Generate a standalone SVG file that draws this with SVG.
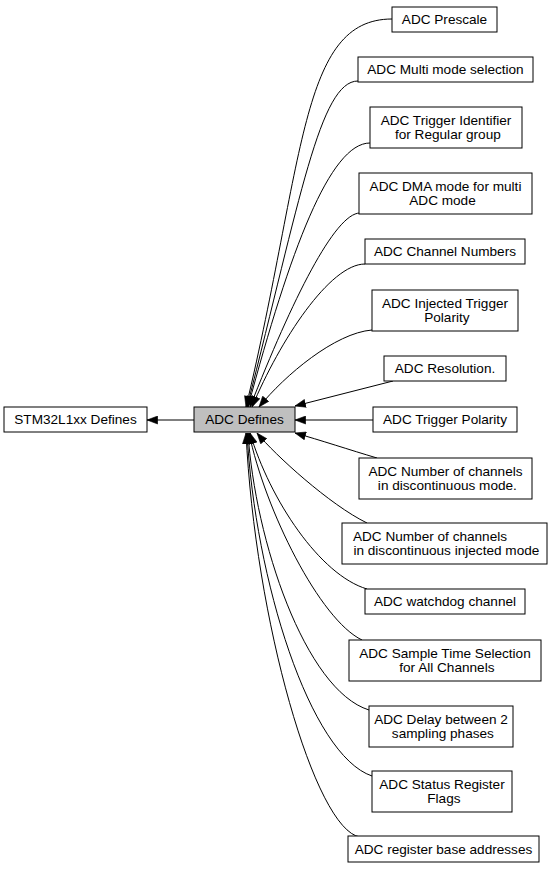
<svg xmlns="http://www.w3.org/2000/svg" width="553" height="869" viewBox="0 0 553 869">
<style>
.n rect{fill:#ffffff;stroke:#000000;stroke-width:1}
.n text{font-family:"Liberation Sans",Arial,sans-serif;font-size:13.6px;fill:#000000;text-anchor:middle}
#cur rect{fill:#bfbfbf}
.e path{fill:none;stroke:#000000;stroke-width:1;marker-end:url(#ah)}
</style>
<defs>
<marker id="ah" markerUnits="userSpaceOnUse" markerWidth="11" markerHeight="9" refX="11" refY="4.5" orient="auto" viewBox="0 0 11 9">
<path d="M0.3,0.5 L11,4.5 L0.3,8.5 z" fill="#000000" stroke="#000000" stroke-width="0.6"/>
</marker>
</defs>
<rect x="0" y="0" width="553" height="869" fill="#ffffff"/>
<g class="e" id="edges">
<path d="M194,420 L147,420"/>
<path d="M392,19 C300,19 305,160 246,407"/>
<path d="M358,81 C320,81 300,200 247,407"/>
<path d="M370,143 C330,143 290,250 248,407"/>
<path d="M360,213 C335,213 292,300 250,407"/>
<path d="M365,264 C330,264 280,340 252,407"/>
<path d="M372,330 C335,333 285,375 259,407"/>
<path d="M393,381 L295,406"/>
<path d="M373,420 L295,420"/>
<path d="M377,458 C350,450 320,440 295,433"/>
<path d="M367,523 C330,505 275,455 257,433"/>
<path d="M367,589 C320,575 270,500 250,433"/>
<path d="M362,640 C320,620 265,510 249,433"/>
<path d="M369,710 C305,690 255,540 248,433"/>
<path d="M372,776 C310,755 255,580 247,433"/>
<path d="M360,837 C315,830 255,620 246,433"/>
</g>
<g class="n" id="stm32"><rect x="4" y="407" width="143" height="25"/><text x="75.5" y="424">STM32L1xx Defines</text></g>
<g class="n" id="cur"><rect x="194" y="407" width="101" height="25"/><text x="244.5" y="424">ADC Defines</text></g>
<g class="n" id="prescale"><rect x="392" y="7" width="105" height="25"/><text x="444.5" y="24">ADC Prescale</text></g>
<g class="n" id="multi"><rect x="358" y="57" width="175" height="25"/><text x="445.5" y="74">ADC Multi mode selection</text></g>
<g class="n" id="trigid"><rect x="370" y="107" width="152" height="41"/><text xml:space="preserve" x="446" y="125">ADC Trigger Identifier</text><text xml:space="preserve" x="446" y="139"> for Regular group</text></g>
<g class="n" id="dma"><rect x="359" y="173" width="173" height="41"/><text xml:space="preserve" x="445.5" y="191">ADC DMA mode for multi</text><text xml:space="preserve" x="441" y="205"> ADC mode</text></g>
<g class="n" id="channel"><rect x="365" y="239" width="160" height="25"/><text x="445" y="256">ADC Channel Numbers</text></g>
<g class="n" id="injtrig"><rect x="372" y="290" width="146" height="41"/><text xml:space="preserve" x="445" y="308">ADC Injected Trigger</text><text xml:space="preserve" x="445" y="322"> Polarity</text></g>
<g class="n" id="resolution"><rect x="384" y="356" width="122" height="25"/><text x="445" y="373">ADC Resolution.</text></g>
<g class="n" id="trigpol"><rect x="373" y="407" width="144" height="25"/><text x="445" y="424">ADC Trigger Polarity</text></g>
<g class="n" id="discmode"><rect x="359" y="458" width="173" height="41"/><text xml:space="preserve" x="445.5" y="476">ADC Number of channels</text><text xml:space="preserve" x="445.5" y="490"> in discontinuous mode.</text></g>
<g class="n" id="discinj"><rect x="342" y="523" width="205" height="41"/><text xml:space="preserve" x="430" y="541">ADC Number of channels</text><text xml:space="preserve" x="444.5" y="555"> in discontinuous injected mode</text></g>
<g class="n" id="watchdog"><rect x="365" y="589" width="160" height="25"/><text x="445" y="606">ADC watchdog channel</text></g>
<g class="n" id="sample"><rect x="349" y="640" width="192" height="41"/><text xml:space="preserve" x="445" y="658">ADC Sample Time Selection</text><text xml:space="preserve" x="445" y="672"> for All Channels</text></g>
<g class="n" id="delay"><rect x="369" y="706" width="144" height="41"/><text xml:space="preserve" x="441" y="724">ADC Delay between 2</text><text xml:space="preserve" x="441" y="738"> sampling phases</text></g>
<g class="n" id="status"><rect x="372" y="771" width="140" height="41"/><text xml:space="preserve" x="442" y="789">ADC Status Register</text><text xml:space="preserve" x="442" y="803"> Flags</text></g>
<g class="n" id="regbase"><rect x="348" y="836" width="191" height="26"/><text x="443.5" y="853.5">ADC register base addresses</text></g>
</svg>
